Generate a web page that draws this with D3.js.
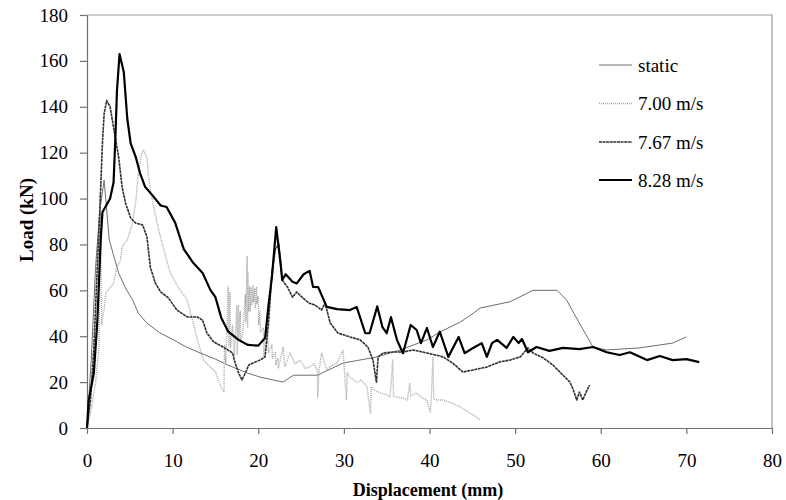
<!DOCTYPE html>
<html>
<head>
<meta charset="utf-8">
<script src="https://cdn.jsdelivr.net/npm/d3@7"></script>
<style>
  html, body { margin: 0; padding: 0; background: #fff; }
  svg text { font-family: "Liberation Serif", "Times New Roman", serif; fill: #000; }
</style>
</head>
<body>
<svg id="chart" width="786" height="500"></svg>
<script>
const xTicks = [0, 10, 20, 30, 40, 50, 60, 70, 80];
const yTicks = [0, 20, 40, 60, 80, 100, 120, 140, 160, 180];
const seriesNames = ["static", "7.00 m/s", "7.67 m/s", "8.28 m/s"];

const staticData = [[0,0],[0.5,30],[1,70],[1.5,95],[2,108],[2.3,95],[2.6,82],[3.2,74],[3.7,67.5],[4.5,61],[5.3,56],[6,50],[7,45.7],[8.5,41.5],[10.1,38.4],[11.5,35.5],[13.2,32.7],[15,30],[16.4,27.5],[18.7,24],[20.2,22.2],[22.9,20],[24.1,23],[26.9,23],[29.9,28.3],[33.9,31],[36.6,34],[39.7,38.4],[41.2,41.8],[43.6,46.2],[45.1,50],[45.9,52.3],[49.4,55],[52.1,60],[54.9,60],[56,55.8],[57.5,45.7],[59.1,35.3],[60.7,34],[64.5,34.9],[68.4,37],[70,39.7]];

const v700 = [[0,0],[0.5,8],[1.0,20],[1.4,35],[1.55,102],[1.7,45],[2.0,52],[2.2,59],[3.1,63],[3.5,70],[3.9,73],[4.1,79],[4.7,82],[5.3,89],[5.7,99],[6.0,111],[6.4,120],[6.6,121],[7.0,118],[7.2,109],[7.4,104],[7.8,96],[8.2,89],[8.6,83],[9.2,74.5],[9.7,68],[10.6,61.5],[10.9,60],[11.7,55.8],[12.4,45.8],[12.9,38.4],[13.6,29.6],[14.4,26.6],[15,24.5],[15.7,17.4],[16,15.5],[16.05,36],[16.2,28],[16.5,61.6],[16.55,36.2],[16.7,59.4],[16.75,34.9],[17.0,45],[17.2,31],[17.5,53.6],[17.55,31.8],[17.7,53.6],[17.75,39.2],[17.9,50.7],[17.95,37.6],[18.2,42],[18.5,58],[18.55,46.3],[18.7,74.7],[18.75,43.6],[18.8,68],[18.85,50.7],[19.0,61.6],[19.05,50.7],[19.2,60.9],[19.25,53.6],[19.4,62.3],[19.45,55],[19.6,60.9],[19.65,52.2],[19.8,61.6],[19.85,54.3],[20.0,57.2],[20.05,44.9],[20.2,50.7],[20.25,42],[20.6,43.5],[20.65,31],[21,44],[21.2,33],[21.6,36.2],[21.65,30.4],[22,33.3],[22.05,27.5],[22.3,30.4],[22.35,26],[22.9,35.3],[23.1,26.6],[23.7,32.7],[24.3,28],[24.9,29.6],[25.5,26],[26,26.6],[26.5,28],[26.9,25.3],[26.95,13.5],[27.1,25],[27.4,32.7],[28,25.3],[28.5,27],[29.2,28.3],[29.9,34],[30.3,12.2],[30.4,24],[30.7,22.2],[31.5,20],[32,21],[32.7,17.9],[33.1,6.5],[33.2,18],[33.5,16.6],[34.2,15.3],[35.0,14.5],[35.4,13.5],[35.7,29.6],[35.8,14],[36.2,13.5],[37.0,13],[37.4,12.2],[37.7,19.6],[37.8,14],[38.5,15.3],[39.2,13],[39.7,12.2],[40.1,6.5],[40.2,12],[40.4,31],[40.5,13],[40.7,12.2],[41.6,12.2],[42.5,11],[43.6,9.2],[44.5,7],[45.2,5.5],[45.9,3.5]];

const v767 = [[0,0],[0.4,12],[0.8,35],[1.2,70],[1.5,95],[1.8,124],[2.0,137],[2.3,142.7],[2.7,140],[3.1,131],[3.7,118],[4.1,105],[4.5,98],[5.1,91.5],[5.7,89.3],[6.5,88.5],[7.0,83.3],[7.4,70],[8.0,63],[8.6,59.3],[9.5,56.7],[10.5,51.4],[11.7,48.4],[12.9,48.4],[13.5,47],[14.0,41.4],[14.8,37.5],[15.9,35.3],[17.0,32.7],[17.3,28.3],[17.7,24],[18.1,21],[18.5,24],[18.9,27.5],[19.4,28.3],[20.2,29.6],[20.8,31],[21.2,45.8],[21.6,67.6],[22.0,78],[22.4,80],[22.8,64.5],[23.4,61.5],[24.0,57],[24.5,59.3],[25.1,57],[25.9,54.5],[26.6,53.6],[27.4,51.4],[27.8,54.5],[28.4,45.8],[29.3,41.4],[30.7,39.7],[31.9,38.4],[32.8,35.3],[33.4,29.6],[33.8,20],[34.0,31],[34.6,32.7],[35.7,33.1],[36.9,33.1],[38.1,34],[39.7,32.7],[41.6,31],[42.7,28.3],[43.9,24.4],[45.1,25.3],[46.7,26.6],[48.2,28.8],[49.4,29.6],[50.6,31],[51.5,34.9],[52.1,32.7],[53.3,30.5],[54.4,27.5],[55.6,23],[56.4,20],[56.8,16.6],[57.2,12.2],[57.5,15.7],[57.9,12.2],[58.3,15.7],[58.7,18.7]];

const v828 = [[0,0],[0.2,12],[0.8,24],[1.2,46],[1.6,82],[1.8,94],[2.7,100],[3.1,107],[3.3,125],[3.5,147],[3.8,163],[4.3,155],[4.7,135],[5.1,124],[5.7,118],[6.2,111],[6.8,105],[7.6,101.6],[8.6,97],[9.3,96.3],[10.3,89.4],[11.3,78],[12.4,72],[13.5,67.6],[14.4,60.2],[15,57],[15.7,47.8],[16.5,42],[17.7,38.4],[18.8,36.2],[20.0,35.9],[20.8,39.2],[21.2,53.6],[21.6,66],[22.1,87.6],[22.6,72],[22.8,64.5],[23.2,67],[24,63.7],[24.5,63],[25.3,67],[26,68.5],[26.4,61.5],[27,61.4],[28,52.8],[29.2,51.8],[30.7,51.4],[31.5,52.7],[32.5,41.3],[33,41.3],[33.9,53],[34.5,44],[35,41.3],[35.5,48.3],[36.2,38.4],[36.9,32.6],[37.8,44.9],[38.5,42.7],[39,37],[39.7,43.6],[40.4,35.3],[41.2,42],[42.2,31],[43.4,39.7],[44.1,32.6],[45.1,34.9],[46.1,37],[46.7,31],[47.3,37],[47.9,38.4],[49,34.9],[49.8,39.7],[50.4,37],[50.8,38.8],[51.5,33],[52.5,35.3],[54,33.6],[55.6,34.9],[57.5,34.4],[59.1,35.3],[60.7,33],[62.2,31.8],[63.4,33],[65.4,29.6],[66.9,31.4],[68.4,29.6],[70,30],[71.5,28.7]];

const seriesData = [staticData, v700, v767, v828];
const styles = [
  {stroke: "#6e6e6e", width: 1, dash: null},
  {stroke: "#a8a8a8", width: 1.4, dash: "1,1"},
  {stroke: "#303030", width: 1.6, dash: "3,0.6"},
  {stroke: "#000000", width: 2.2, dash: null}
];

const svg = d3.select("#chart");
const x = d3.scaleLinear().domain([0, 80]).range([87, 772]);
const y = d3.scaleLinear().domain([0, 180]).range([428, 15]);

// frame (top + right)
svg.append("path")
  .attr("d", `M${x(0)},${y(180)}H${x(80)}V${y(0)}`)
  .attr("fill", "none").attr("stroke", "#999").attr("stroke-width", 1.2);

const xAxis = svg.append("g").attr("transform", `translate(0,${y(0)})`)
  .call(d3.axisBottom(x).tickValues(xTicks).tickSize(6).tickPadding(20).tickSizeOuter(0));
const yAxis = svg.append("g").attr("transform", `translate(${x(0)},0)`)
  .call(d3.axisLeft(y).tickValues(yTicks).tickSize(7).tickPadding(12).tickSizeOuter(0));
[xAxis, yAxis].forEach(g => {
  g.select(".domain").attr("stroke", "#707070").attr("stroke-width", 1.2);
  g.selectAll(".tick line").attr("stroke", "#707070").attr("stroke-width", 1.2);
  g.selectAll(".tick text").attr("font-family", "Liberation Serif, serif").attr("font-size", 19).attr("fill", "#000");
});

const line = d3.line().x(d => x(d[0])).y(d => y(d[1]));
seriesData.forEach((data, i) => {
  const s = styles[i];
  svg.append("path").datum(data)
    .attr("d", line)
    .attr("fill", "none")
    .attr("stroke", s.stroke)
    .attr("stroke-width", s.width)
    .attr("stroke-linejoin", "round")
    .attr("stroke-dasharray", s.dash);
});

// legend
const legendY = [65, 103.5, 142, 180];
seriesNames.forEach((name, i) => {
  const s = styles[i];
  const g = svg.append("g");
  g.append("line").attr("x1", 599).attr("x2", 632).attr("y1", legendY[i]).attr("y2", legendY[i])
    .attr("stroke", s.stroke).attr("stroke-width", s.width).attr("stroke-dasharray", s.dash);
  g.append("text").attr("x", 638).attr("y", legendY[i]).attr("dy", "0.35em")
    .attr("font-size", 19).text(name);
});

// axis titles
svg.append("text").attr("x", 428).attr("y", 496).attr("text-anchor", "middle")
  .attr("font-size", 18).attr("font-weight", "bold").text("Displacement (mm)");
svg.append("text").attr("transform", "translate(33,220) rotate(-90)").attr("text-anchor", "middle")
  .attr("font-size", 19).attr("font-weight", "bold").text("Load (kN)");
</script>
</body>
</html>
